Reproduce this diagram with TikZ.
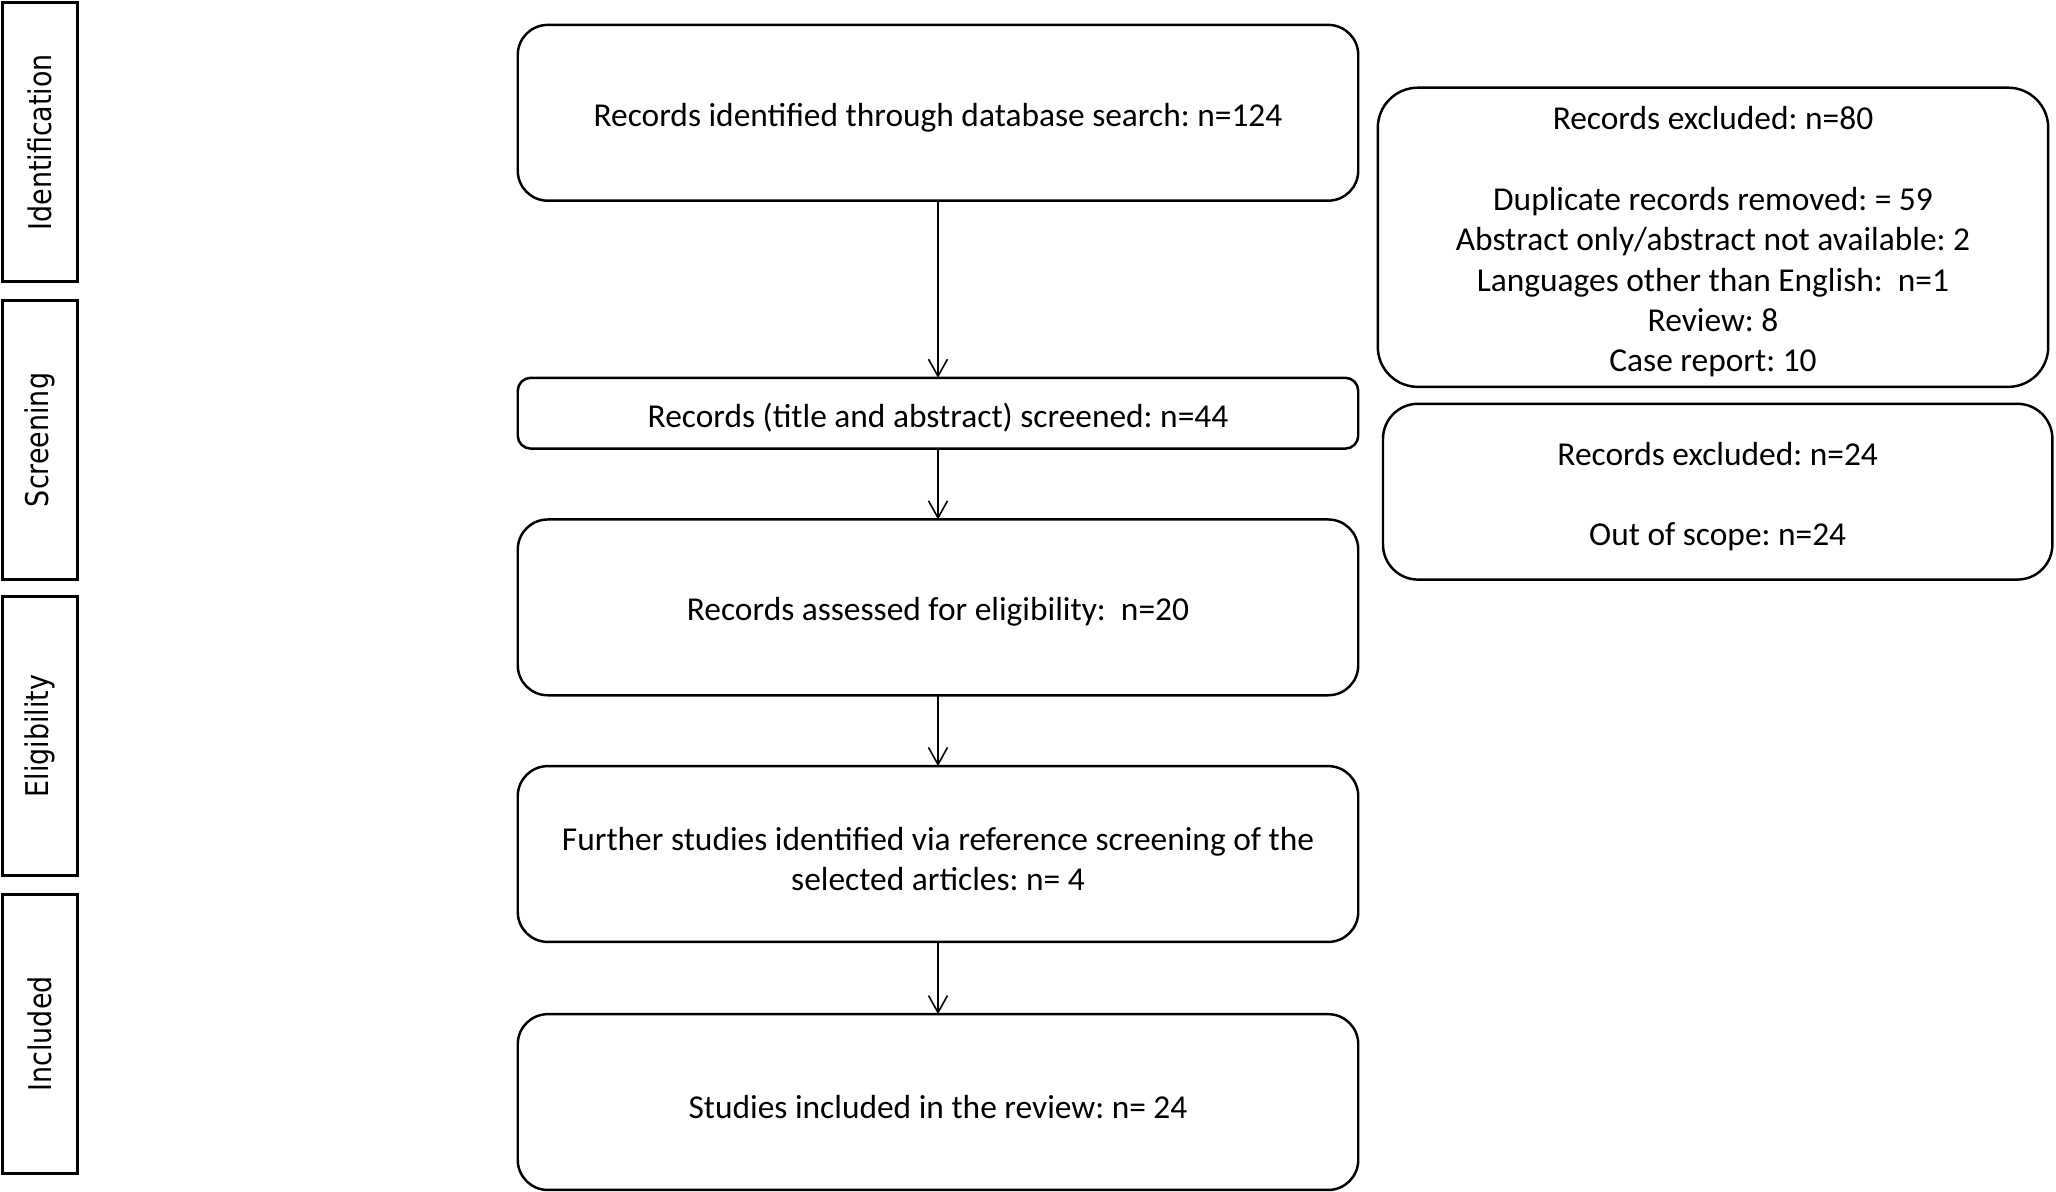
\documentclass[tikz,border=0pt]{standalone}
\usepackage{fontspec}
\usepackage{graphicx}
\setmainfont{Carlito}
\newfontfamily\fasefont{DejaVu Sans}
\frenchspacing
\usetikzlibrary{
	positioning,    % Per posizionare i nodi (es. below=of)
	arrows.meta     % Per le punte di freccia
}
\tikzset{
	blocco/.style={draw, line width=0.7pt, rounded corners=0.3cm, minimum width=8.4cm, minimum height=1.757cm, inner sep=0pt, outer sep=0pt, align=center, font=\fontsize{9.5}{11.47}\selectfont, execute at begin node={\alza}},
	escluso/.style={blocco, rounded corners=0.4cm, minimum width=6.7cm},
	fase/.style={draw, line width=0.85pt, rotate=90, minimum width=2.79cm, minimum height=0.748cm, inner sep=0pt, font=\fasefont\fontsize{8.9}{10}\selectfont},
	freccia/.style={-{Straight Barb[length=1.7mm, width=1.9mm]}, line width=0.45pt}
}
\newcommand{\fasetxt}[1]{\scalebox{0.86}[1]{#1}}
\newcommand{\alza}{\rule{0pt}{9.3pt}} % abbassa un po' il testo nei blocchi

\begin{document}
\begin{tikzpicture}[x=0.01cm, y=-0.01cm]
		% Area del disegno (in pixel del riferimento)
		\useasboundingbox (0,0) rectangle (2056,1192);
		
		% --- Fasi (colonna a sinistra) ---
		\node[fase] (ident) at (40,142.3) {\fasetxt{Identification}};
		\node[fase] (screen) at (40,440) {\fasetxt{Screening}};
		\node[fase] (elig) at (40,736.2) {\fasetxt{Eligibility}};
		\node[fase] (incl) at (40,1033.9) {\fasetxt{Included}};
		
		% --- Blocchi principali ---
		\node[blocco] (ricerca) at (938,112.8) {Records identified through database search: n=124};
		\node[blocco, minimum height=0.708cm, rounded corners=0.13cm, below=1.77cm of ricerca] (screened) {Records (title and abstract) screened: n=44};
		\node[blocco, below=0.708cm of screened] (eleggibili) {Records assessed for eligibility:\ \ n=20};
		\node[blocco, below=0.708cm of eleggibili] (ulteriori) {\alza Further studies identified via reference screening of the\\selected articles: n= 4};
		\node[blocco, below=0.722cm of ulteriori] (inclusi) {Studies included in the review: n= 24};
		
		% --- Blocchi degli esclusi ---
		\node[escluso, minimum height=2.99cm] (escl1) at (1713,237.3) {\alza Records excluded: n=80\\[11.47pt]
			Duplicate records removed: = 59\\
			Abstract only/abstract not available: 2\\
			Languages other than English:\ \ n=1\\
			Review: 8\\
			Case report: 10};
		\node[escluso, rounded corners=0.35cm, minimum width=6.69cm] (escl2) at (1717.7,491.7) {\alza Records excluded: n=24\\[11.47pt]
			Out of scope: n=24};
		
		% --- Frecce ---
		\draw[freccia] (ricerca) -- (screened);
		\draw[freccia] (screened) -- (eleggibili);
		\draw[freccia] (eleggibili) -- (ulteriori);
		\draw[freccia] (ulteriori) -- (inclusi);
	\end{tikzpicture}
\end{document}
